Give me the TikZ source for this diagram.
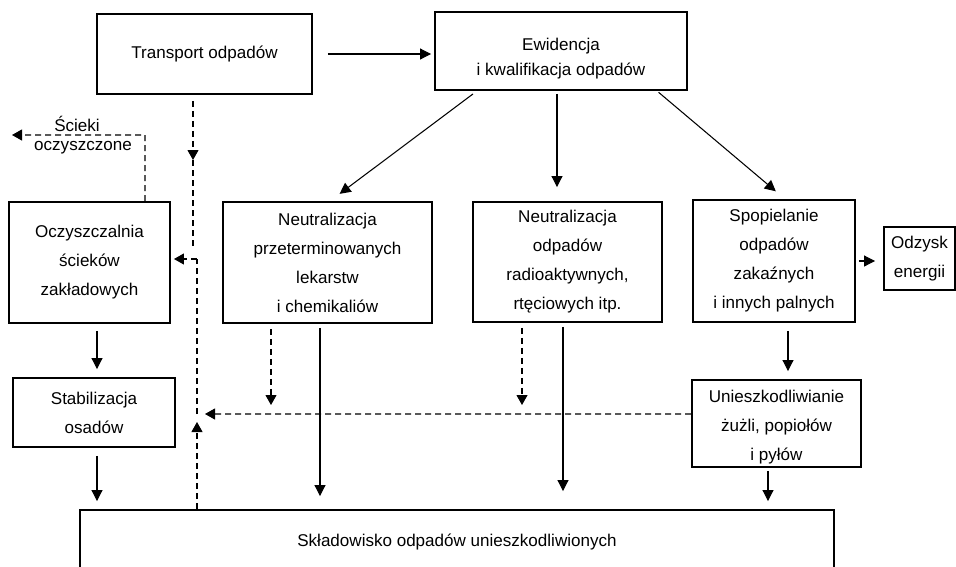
\documentclass[tikz,border=0pt]{standalone}
\usepackage{fontspec}
\setmainfont{Liberation Sans}
\usetikzlibrary{arrows.meta}
\tikzset{
  box/.style={draw, line width=1.1pt, align=center, inner sep=2pt, font=\fontsize{9.7}{16.5}\selectfont},
  arr/.style={line width=0.6pt, -{Triangle[length=2.2mm,width=2.2mm]}},
  dline/.style={line width=0.6pt, dash pattern=on 1.2mm off 0.8mm},
  darr/.style={dline, -{Triangle[length=2mm,width=2.2mm]}},
  lbl/.style={font=\fontsize{9.7}{11}\selectfont, inner sep=0pt}
}
\begin{document}
\begin{tikzpicture}[x=0.2mm,y=-0.2mm]
    \clip (0,0) rectangle (956,566);
    % boxes
    \node[box, minimum width=43mm, minimum height=16mm] (transport) at (204.5,54) {Transport odpadów};
    \node[box, minimum width=50.4mm, minimum height=15.6mm, font=\fontsize{9.7}{14.2}\selectfont] (ewid) at (561,51) {\rule{0pt}{16pt}Ewidencja\\i kwalifikacja odpadów};
    \node[box, minimum width=32.2mm, minimum height=24.2mm] (oczysz) at (89.5,262.5) {Oczyszczalnia\\ścieków\\zakładowych};
    \node[box, minimum width=32.4mm, minimum height=13.8mm] (stab) at (94,412.5) {Stabilizacja\\osadów};
    \node[box, minimum width=41.8mm, minimum height=24.2mm] (neut1) at (327.5,262.5) {Neutralizacja\\przeterminowanych\\lekarstw\\i chemikaliów};
    \node[box, minimum width=37.8mm, minimum height=24mm] (neut2) at (567.5,262) {Neutralizacja\\odpadów\\radioaktywnych,\\rtęciowych itp.};
    \node[box, minimum width=32.4mm, minimum height=24.4mm] (spop) at (774,261) {Spopielanie\\odpadów\\zakaźnych\\i innych palnych};
    \node[box, minimum width=14.2mm, minimum height=12.6mm, inner sep=1pt] (odzysk) at (919.5,258.5) {Odzysk\\energii};
    \node[box, minimum width=33.8mm, minimum height=17.4mm, inner ysep=0.5pt] (unieszk) at (776.5,423.5) {\rule{0pt}{11pt}Unieszkodliwianie\\żużli, popiołów\\i pyłów};
    \node[box, minimum width=150.8mm, minimum height=12.8mm] (sklad) at (457,542) {\raisebox{2pt}{Składowisko odpadów unieszkodliwionych}};
    % solid flow
    \draw[arr, shorten <=3mm, shorten >=0.6mm] (transport.east) -- (transport.east -| ewid.west);
    \draw[arr, shorten <=1mm, shorten >=2.4mm] ([xshift=-16.8mm]ewid.south) -- ([xshift=0.5mm]neut1.north);
    \draw[arr, shorten <=0.6mm, shorten >=2.8mm] ([xshift=-0.8mm]ewid.south) -- ([xshift=-0.8mm]ewid.south |- neut2.north);
    \draw[arr, shorten <=0.4mm, shorten >=2.4mm] ([xshift=19.2mm]ewid.south) -- ([xshift=2.2mm]spop.north);
    \draw[arr, shorten <=0.6mm, shorten >=1.6mm] (spop.east) -- (spop.east -| odzysk.west);
    \draw[arr, shorten <=1.6mm, shorten >=1.6mm] ([xshift=2.8mm]spop.south) -- ([xshift=2.8mm]spop.south |- unieszk.north);
    \draw[arr, shorten <=0.6mm, shorten >=1.6mm] ([xshift=-1.7mm]unieszk.south) -- ([xshift=-1.7mm]unieszk.south |- sklad.north);
    \draw[arr, shorten <=1.4mm, shorten >=1.6mm] ([xshift=1.5mm]oczysz.south) -- ([xshift=1.5mm]oczysz.south |- stab.north);
    \draw[arr, shorten <=1.6mm, shorten >=1.6mm] ([xshift=0.6mm]stab.south) -- ([xshift=0.6mm]stab.south |- sklad.north);
    \draw[arr, shorten <=0.8mm, shorten >=2.6mm] ([xshift=-1.5mm]neut1.south) -- ([xshift=-1.5mm]neut1.south |- sklad.north);
    \draw[arr, shorten <=0.8mm, shorten >=3.6mm] ([xshift=-0.9mm]neut2.south) -- ([xshift=-0.9mm]neut2.south |- sklad.north);
    % dashed flow
    \coordinate (wez) at (197,414);
    \coordinate (kol) at (197,259);
    \coordinate (trm) at (193,160);
    \coordinate (tre) at (193,248);
    \draw[darr, shorten <=1.2mm] (trm |- transport.south) -- (trm);
    \draw[dline] (trm) -- (tre);
    \draw[darr, shorten >=1.6mm] (wez |- sklad.north) -- (wez);
    \draw[dline] (wez) -- (kol);
    \draw[darr, shorten >=0.6mm] (kol) -- (kol -| oczysz.east);
    \draw[darr, shorten >=1.6mm] ([yshift=1.9mm]unieszk.west) -- (wez);
    \draw[darr, shorten <=1mm, shorten >=1.8mm] ([xshift=-11.3mm]neut1.south) -- ([xshift=-11.3mm]neut1.south |- wez);
    \draw[darr, shorten <=1mm, shorten >=1.8mm] ([xshift=-9.1mm]neut2.south) -- ([xshift=-9.1mm]neut2.south |- wez);
    % treated sewage
    \coordinate (sc) at (145,135);
    \coordinate (scend) at (12,135);
    \draw[darr] ([xshift=11.1mm]oczysz.north) -- (sc) -- (scend);
    \node[lbl] (scieki) at (77,124) {Ścieki};
    \node[lbl] (oczyszczone) at (83,148) {oczyszczone};
\end{tikzpicture}
\end{document}
